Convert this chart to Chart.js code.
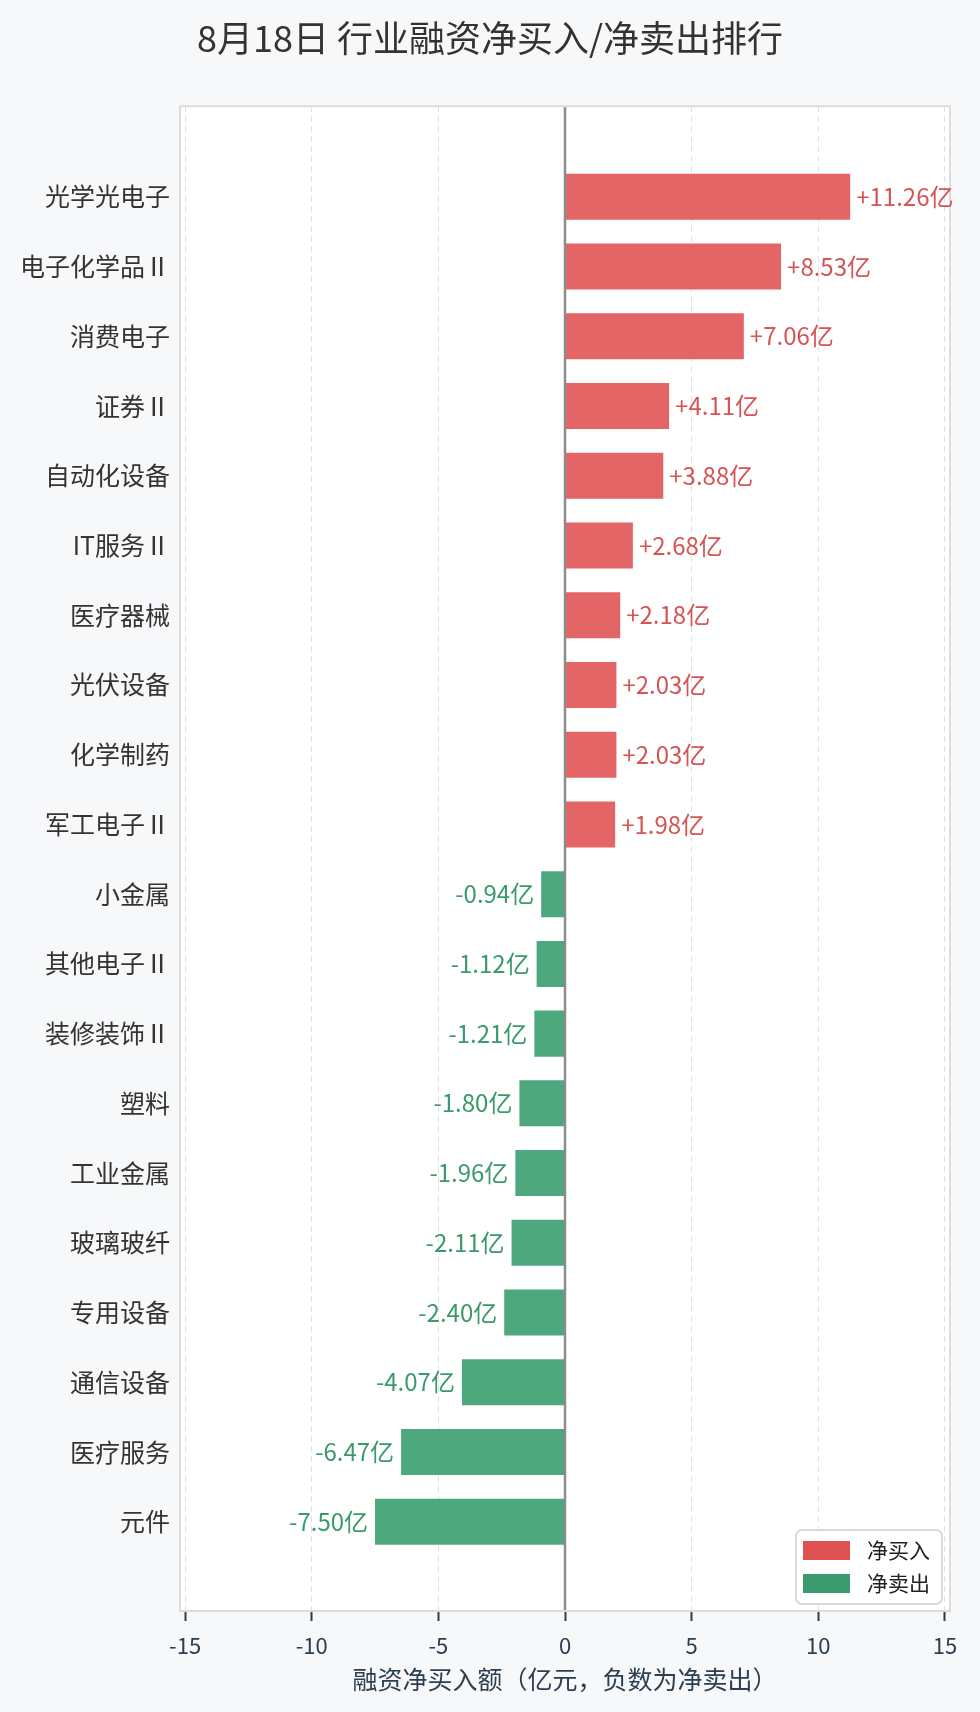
<!DOCTYPE html>
<html lang="zh">
<head>
<meta charset="utf-8">
<title>8月18日 行业融资净买入/净卖出排行</title>
<script src="https://cdn.jsdelivr.net/npm/chart.js@4.4.1/dist/chart.umd.min.js"></script>
<style>
  html, body { margin: 0; padding: 0; background: #f6f8fa; }
  #wrap { width: 980px; height: 1712px; }
</style>
</head>
<body>
<div id="wrap"><canvas id="chartRongzi" width="980" height="1712"></canvas></div>
<script>
// 行业名称（从上到下）
const categories = [
    '光学光电子', '电子化学品Ⅱ', '消费电子', '证券Ⅱ', '自动化设备',
    'IT服务Ⅱ', '医疗器械', '光伏设备', '化学制药', '军工电子Ⅱ',
    '小金属', '其他电子Ⅱ', '装修装饰Ⅱ', '塑料', '工业金属',
    '玻璃玻纤', '专用设备', '通信设备', '医疗服务', '元件'
];
// 融资净买入额（亿元）
const netValues = [
    11.26, 8.53, 7.06, 4.11, 3.88,
    2.68, 2.18, 2.03, 2.03, 1.98,
    -0.94, -1.12, -1.21, -1.80, -1.96,
    -2.11, -2.40, -4.07, -6.47, -7.50
];
const xTicks = [-15, -10, -5, 0, 5, 10, 15];

const FONT = '"Noto Sans CJK SC", "Noto Sans", sans-serif';
Chart.defaults.font.family = FONT;

// 拆成两组：净买入 / 净卖出
const buyPoints = [];
const sellPoints = [];
netValues.forEach((v, i) => {
    if (v >= 0) buyPoints.push({x: v, y: i});
    else sellPoints.push({x: v, y: i});
});

const plotFrame = {
    id: 'plotFrame',
    afterLayout(chart) {
        // 标题在整张画布上居中
        if (chart.titleBlock) {
            chart.titleBlock.left = 0;
            chart.titleBlock.right = chart.width;
        }
    },
    beforeDraw(chart) {
        const {ctx, chartArea: a} = chart;
        ctx.save();
        ctx.fillStyle = '#f6f8fa';
        ctx.fillRect(0, 0, chart.width, chart.height);
        ctx.fillStyle = '#ffffff';
        ctx.fillRect(a.left, a.top, a.right - a.left, a.bottom - a.top);
        ctx.restore();
    },
    afterDatasetsDraw(chart) {
        const {ctx, chartArea: a, scales: {x}} = chart;
        const x0 = x.getPixelForValue(0);
        ctx.save();
        // 零线
        ctx.strokeStyle = '#8c8c8c';
        ctx.lineWidth = 2.5;
        ctx.beginPath();
        ctx.moveTo(x0, a.top);
        ctx.lineTo(x0, a.bottom);
        ctx.stroke();
        // 边框
        ctx.strokeStyle = '#dcdcdc';
        ctx.lineWidth = 2;
        ctx.strokeRect(a.left, a.top, a.right - a.left, a.bottom - a.top);
        ctx.restore();
    }
};

// 柱子末端的数值标签
const valueLabels = {
    id: 'valueLabels',
    afterDatasetsDraw(chart) {
        const ctx = chart.ctx;
        ctx.save();
        ctx.font = '24px ' + FONT;
        ctx.textBaseline = 'middle';
        chart.data.datasets.forEach((ds, di) => {
            const meta = chart.getDatasetMeta(di);
            meta.data.forEach((bar, i) => {
                const v = ds.data[i].x;
                ctx.fillStyle = ds.textColor;
                if (v >= 0) {
                    ctx.textAlign = 'left';
                    ctx.fillText('+' + v.toFixed(2) + '亿', bar.x + 6, bar.y);
                } else {
                    ctx.textAlign = 'right';
                    ctx.fillText(v.toFixed(2) + '亿', bar.x - 7, bar.y);
                }
            });
        });
        ctx.restore();
    }
};

// 右下角图例（画在绘图区内）
const cornerLegend = {
    id: 'cornerLegend',
    afterDraw(chart) {
        const {ctx, chartArea: a} = chart;
        const boxW = 146, boxH = 74, rowH = 33;
        const bx = a.right - 8 - boxW;
        const by = a.bottom - 7 - boxH;
        ctx.save();
        ctx.fillStyle = 'rgba(255,255,255,0.92)';
        ctx.strokeStyle = '#d9d9d9';
        ctx.lineWidth = 2;
        ctx.beginPath();
        ctx.roundRect(bx, by, boxW, boxH, 6);
        ctx.fill();
        ctx.stroke();
        ctx.font = '21px ' + FONT;
        ctx.textBaseline = 'middle';
        ctx.textAlign = 'left';
        chart.data.datasets.forEach((ds, i) => {
            const cy = by + 20.5 + i * rowH;
            ctx.fillStyle = ds.legendColor;
            ctx.fillRect(bx + 7, cy - 9.5, 47, 19);
            ctx.fillStyle = '#222222';
            ctx.fillText(ds.label, bx + 71, cy);
        });
        ctx.restore();
    }
};

const ctx = document.getElementById('chartRongzi').getContext('2d');
const myChart = new Chart(ctx, {
    type: 'bar',
    data: {
        datasets: [{
            label: '净买入',
            data: buyPoints,
            backgroundColor: '#e36565',
            legendColor: '#e05252',
            textColor: '#d65454',
            grouped: false,
            borderWidth: 0,
            barPercentage: 0.66,
            categoryPercentage: 1
        }, {
            label: '净卖出',
            data: sellPoints,
            backgroundColor: '#4ea87d',
            legendColor: '#3a9b6e',
            textColor: '#3a9a6b',
            grouped: false,
            borderWidth: 0,
            barPercentage: 0.66,
            categoryPercentage: 1
        }]
    },
    options: {
        indexAxis: 'y',
        responsive: false,
        animation: false,
        devicePixelRatio: 1,
        layout: {
            padding: {left: 0, right: 30, top: 0, bottom: 0}
        },
        scales: {
            x: {
                type: 'linear',
                bounds: 'data',
                min: -15.2,
                max: 15.2,
                afterBuildTicks: (scale) => {
                    scale.ticks = xTicks.map(v => ({value: v}));
                },
                afterFit: (scale) => {
                    scale.height = 101;
                },
                grid: {
                    color: (c) => c.tick && c.tick.value === 0 ? 'transparent' : '#e0e0e0',
                    lineWidth: 1,
                    tickLength: 10,
                    tickColor: '#2c3e50',
                    tickWidth: 2
                },
                border: {display: false, dash: [6, 4]},
                ticks: {
                    color: '#2c3e50',
                    font: {size: 22},
                    padding: 11,
                    callback: (v) => String(v)
                },
                title: {
                    display: true,
                    text: '融资净买入额（亿元，负数为净卖出）',
                    color: '#2c3e50',
                    font: {size: 25},
                    padding: {top: 4, bottom: 18}
                }
            },
            y: {
                type: 'linear',
                reverse: true,
                offset: false,
                bounds: 'data',
                min: -1.3,
                max: 20.28,
                afterBuildTicks: (scale) => {
                    scale.ticks = categories.map((c, i) => ({value: i}));
                },
                afterFit: (scale) => {
                    scale.width = 180;
                },
                grid: {display: false, drawTicks: false, offset: false},
                border: {display: false},
                ticks: {
                    color: '#333333',
                    font: {size: 25},
                    padding: 10,
                    autoSkip: false,
                    callback: (v) => categories[v]
                }
            }
        },
        plugins: {
            legend: {display: false},
            tooltip: {enabled: false},
            title: {
                display: true,
                text: '8月18日 行业融资净买入/净卖出排行',
                color: '#333333',
                font: {size: 36, weight: 'normal'},
                padding: {top: 17, bottom: 46}
            }
        }
    },
    plugins: [plotFrame, valueLabels, cornerLegend]
});
</script>
</body>
</html>
